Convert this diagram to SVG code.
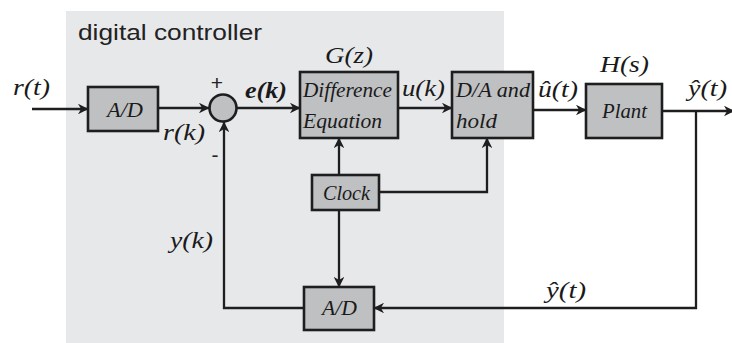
<svg xmlns="http://www.w3.org/2000/svg" width="732" height="343" viewBox="0 0 732 343">
  <style>
    .blk { fill: #bfc0c2; stroke: #1e1e1e; stroke-width: 2.6; }
    .wire { fill: none; stroke: #1e1e1e; stroke-width: 2.3; }
    .math { font-family: "Liberation Serif", "DejaVu Serif", serif; font-style: italic; font-size: 21px; fill: #1a1a1a; }
    .lbl { font-family: "Liberation Serif", "DejaVu Serif", serif; font-style: italic; font-size: 20px; fill: #1a1a1a; }
    .sans { font-family: "Liberation Sans", Arial, sans-serif; fill: #222; }
  </style>
  <defs>
    <marker id="arr" viewBox="0 0 10 10" refX="9.5" refY="5" markerWidth="4.6" markerHeight="4.6" orient="auto" markerUnits="strokeWidth">
      <path d="M0,0 L10,5 L0,10 L3,5 z" fill="#1e1e1e"/>
    </marker>
  </defs>

  <rect width="732" height="343" fill="#ffffff"/>
  <!-- controller region -->
  <rect id="controller-region" x="66" y="11" width="438" height="332" fill="#e7e8ea"/>
  <text class="sans" x="78" y="40" font-size="22" textLength="184" lengthAdjust="spacingAndGlyphs">digital controller</text>

  <g id="connectors">
    <path class="wire" d="M32,109 H88" marker-end="url(#arr)"/>
    <path class="wire" d="M158,108 H209" marker-end="url(#arr)"/>
    <path class="wire" d="M237,108 H300" marker-end="url(#arr)"/>
    <path class="wire" d="M398,108 H452" marker-end="url(#arr)"/>
    <path class="wire" d="M533,110 H586" marker-end="url(#arr)"/>
    <path class="wire" d="M662,111 H734" marker-end="url(#arr)"/>
    <path class="wire" d="M696,111 V308 H374" marker-end="url(#arr)"/>
    <path class="wire" d="M379,192 H487 V138" marker-end="url(#arr)"/>
    <path class="wire" d="M339,175 V138" marker-end="url(#arr)"/>
    <path class="wire" d="M339,210 V287" marker-end="url(#arr)"/>
    <path class="wire" d="M304,308 H224 V122" marker-end="url(#arr)"/>
  </g>

  <g id="ad-in">
    <rect class="blk" x="88" y="87" width="70" height="44"/>
    <text class="math" x="107" y="117" textLength="36" lengthAdjust="spacingAndGlyphs">A/D</text>
  </g>

  <g id="sum">
    <circle class="blk" cx="223" cy="108" r="13.5"/>
    <text class="sans" x="217" y="90" font-size="21" text-anchor="middle">+</text>
    <text class="sans" x="215" y="162" font-size="21" text-anchor="middle">-</text>
  </g>

  <g id="difference-equation">
    <rect class="blk" x="300" y="72" width="98" height="66"/>
    <text class="math" x="303" y="97" textLength="89" lengthAdjust="spacingAndGlyphs">Difference</text>
    <text class="math" x="303" y="128" textLength="79" lengthAdjust="spacingAndGlyphs">Equation</text>
  </g>

  <g id="da-hold">
    <rect class="blk" x="452" y="72" width="81" height="66"/>
    <text class="math" x="456" y="97" textLength="74" lengthAdjust="spacingAndGlyphs">D/A and</text>
    <text class="math" x="456" y="128" textLength="41" lengthAdjust="spacingAndGlyphs">hold</text>
  </g>

  <g id="plant">
    <rect class="blk" x="586" y="84" width="76" height="54"/>
    <text class="math" x="602" y="118" textLength="45" lengthAdjust="spacingAndGlyphs">Plant</text>
  </g>

  <g id="clock">
    <rect class="blk" x="312" y="175" width="67" height="35"/>
    <text class="lbl" x="323" y="200" textLength="47" lengthAdjust="spacingAndGlyphs">Clock</text>
  </g>

  <g id="ad-feedback">
    <rect class="blk" x="304" y="287" width="70" height="43"/>
    <text class="math" x="322" y="315" textLength="35" lengthAdjust="spacingAndGlyphs">A/D</text>
  </g>

  <!-- signal labels -->
  <g id="labels" class="math">
    <text x="13" y="95" font-size="23" textLength="37" lengthAdjust="spacingAndGlyphs">r(t)</text>
    <text x="163" y="140" font-size="23" textLength="42" lengthAdjust="spacingAndGlyphs">r(k)</text>
    <text x="245" y="98" font-size="23" font-weight="bold" textLength="42" lengthAdjust="spacingAndGlyphs">e(k)</text>
    <text x="325" y="63" font-size="23" textLength="48" lengthAdjust="spacingAndGlyphs">G(z)</text>
    <text x="402" y="96" font-size="23" textLength="43" lengthAdjust="spacingAndGlyphs">u(k)</text>
    <text x="538" y="97" font-size="23" textLength="40" lengthAdjust="spacingAndGlyphs">û(t)</text>
    <text x="600" y="72" font-size="23" textLength="49" lengthAdjust="spacingAndGlyphs">H(s)</text>
    <text x="688" y="96" font-size="23" textLength="39" lengthAdjust="spacingAndGlyphs">ŷ(t)</text>
    <text x="170" y="248" font-size="23" textLength="43" lengthAdjust="spacingAndGlyphs">y(k)</text>
    <text x="546" y="298" font-size="23" textLength="40" lengthAdjust="spacingAndGlyphs">ŷ(t)</text>
  </g>
</svg>
